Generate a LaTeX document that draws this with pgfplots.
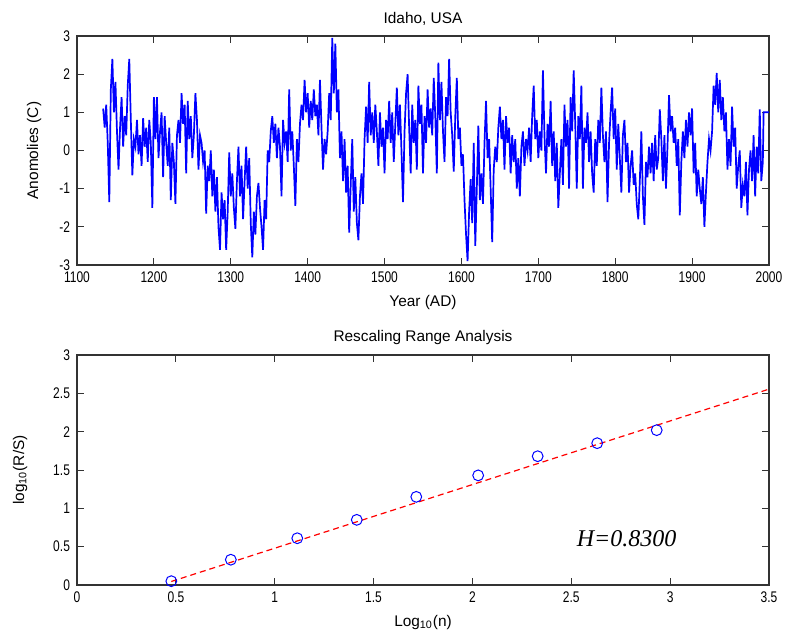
\documentclass[border=0pt]{standalone}
\usepackage{fontspec}
\setmainfont{Liberation Sans}
\newfontfamily\narrowfont{Liberation Sans}[FakeStretch=0.78]
\newfontfamily\hserif{Liberation Serif}
\usepackage{pgfplots}
\pgfplotsset{compat=1.18}

\pgfplotsset{
  matlab/.style={
    scale only axis,
    width=346pt,
    axis line style={black!80, line width=0.6pt},
    tick style={black!80, line width=0.5pt},
    major tick length=3.5pt,
    tick align=inside,
    font=\fontsize{7.7}{9}\selectfont,
    tick label style={font=\fontsize{7.7}{9}\selectfont\narrowfont},
    /pgf/number format/assume math mode=true,
    /pgf/number format/1000 sep={},
    title style={yshift=-4.5pt},
    xlabel style={yshift=0.5pt},
    clip=false,
  }
}

\begin{document}
\begin{tikzpicture}
% top: the temperature anomaly series
\begin{axis}[matlab,
    name=top,
    height=114.5pt,
    xmin=1100, xmax=2000,
    ymin=-3, ymax=3,
    xtick={1100,1200,...,2000},
    ytick={-3,-2,...,3},
    title={Idaho, USA},
    xlabel={Year (AD)},
    ylabel={Anomolies (C)},
    ylabel style={at={(axis description cs:-0.062,0.5)}, anchor=center},
]
\addplot[color={rgb,255:red,0;green,0;blue,255}, line width=0.85pt, mark=none] table {
1134 1.1
1136 0.6
1138 1.2
1140 0.2
1142 -1.35
1144 1.6
1146 2.4
1148 1.0
1150 1.8
1152 0.5
1154 -0.5
1156 0.6
1158 1.4
1160 0.1
1162 0.9
1164 0.4
1166 1.7
1168 2.4
1170 0.8
1172 -0.65
1174 0.3
1176 0.1
1178 0.8
1180 -0.1
1182 0.4
1184 -0.4
1186 0.85
1188 0.1
1190 0.6
1192 -0.3
1194 0.8
1196 0.2
1198 -1.5
1200 1.4
1202 0.3
1204 1.4
1206 -0.2
1208 0.5
1210 1.0
1212 -0.7
1214 0.9
1216 0.2
1218 -0.4
1220 0.6
1222 -1.3
1224 0.2
1226 -0.3
1228 -1.4
1230 0.4
1232 0.8
1234 0.2
1236 1.5
1238 0.7
1240 1.2
1242 -0.6
1244 1.3
1246 0.3
1248 0.9
1250 -0.2
1252 0.4
1254 1.5
1256 0.8
1258 -0.5
1260 0.4
1262 0.2
1264 -0.3
1266 0.0
1268 -1.65
1270 -0.4
1272 -0.8
1274 0.0
1276 -1.2
1278 -0.5
1280 -1.6
1282 -0.7
1284 -2.0
1286 -2.6
1288 -1.1
1290 -1.8
1292 -1.3
1294 -2.6
1296 -1.6
1298 -0.05
1300 -1.2
1302 -0.6
1304 -1.5
1306 -2.05
1308 -0.8
1310 0.1
1312 -1.2
1314 -0.4
1316 -1.8
1318 -0.8
1320 0.1
1322 -1.0
1324 -0.2
1326 -1.9
1328 -2.8
1330 -1.6
1332 -2.2
1334 -1.2
1336 -0.85
1338 -1.5
1340 -2.0
1342 -2.6
1344 -1.3
1346 -1.8
1348 0.0
1350 -0.3
1352 0.5
1354 0.9
1356 0.2
1358 0.7
1360 -0.2
1362 0.6
1364 0.1
1366 -1.2
1368 0.8
1370 0.2
1372 0.5
1374 -0.3
1376 1.6
1378 0.0
1380 0.5
1382 -0.4
1384 -1.45
1386 0.3
1388 -0.3
1390 0.7
1392 1.2
1394 0.8
1396 1.85
1398 1.0
1400 1.5
1402 0.6
1404 1.3
1406 0.8
1408 1.6
1410 0.9
1412 1.2
1414 0.4
1416 1.85
1418 0.6
1420 -0.5
1422 0.3
1424 -0.1
1426 0.5
1428 1.5
1430 0.8
1432 2.95
1434 1.5
1436 2.8
1438 1.0
1440 1.6
1442 -0.2
1444 0.5
1446 -0.8
1448 0.3
1450 -1.1
1452 -0.4
1454 -2.15
1456 -0.9
1458 0.3
1460 -1.6
1462 -0.7
1464 -1.9
1466 -2.35
1468 -1.2
1470 -0.6
1472 -1.4
1474 0.3
1476 1.15
1478 0.2
1480 1.8
1482 0.4
1484 1.0
1486 0.2
1488 1.2
1490 0.5
1492 -0.4
1494 1.0
1496 0.1
1498 0.6
1500 -0.6
1502 0.8
1504 0.3
1506 1.3
1508 0.2
1510 1.0
1512 -0.3
1514 0.7
1516 1.65
1518 0.4
1520 1.2
1522 0.0
1524 -1.35
1526 0.5
1528 1.5
1530 2.0
1532 0.6
1534 -0.6
1536 1.2
1538 0.2
1540 0.8
1542 -0.5
1544 1.7
1546 0.7
1548 1.2
1550 -0.6
1552 0.9
1554 0.2
1556 1.6
1558 0.6
1560 1.1
1562 0.4
1564 1.9
1566 0.9
1568 -0.6
1570 2.3
1572 0.8
1574 1.8
1576 0.5
1578 -0.3
1580 1.4
1582 0.9
1584 2.4
1586 1.0
1588 0.4
1590 -0.55
1592 0.9
1594 1.9
1596 0.3
1598 0.6
1600 -0.4
1602 -0.1
1604 -1.3
1606 -2.2
1608 -2.9
1610 -1.6
1612 -0.75
1614 -1.9
1616 0.2
1618 -2.5
1620 -1.0
1622 0.65
1624 -1.3
1626 -0.6
1628 -1.4
1630 0.2
1632 1.3
1634 -0.2
1636 0.3
1638 -1.0
1640 -2.4
1642 -0.5
1644 0.1
1646 -0.3
1648 0.6
1650 1.15
1652 0.3
1654 0.8
1656 -0.5
1658 0.9
1660 0.2
1662 0.6
1664 -0.6
1666 0.4
1668 -0.3
1670 0.3
1672 -1.0
1674 -0.2
1676 -1.2
1678 0.1
1680 0.5
1682 -0.4
1684 0.3
1686 0.0
1688 0.6
1690 -0.3
1692 0.9
1694 1.7
1696 0.3
1698 0.8
1700 -0.2
1702 0.5
1704 0.0
1706 2.1
1708 0.4
1710 -0.6
1712 0.7
1714 0.1
1716 1.3
1718 -0.4
1720 0.5
1722 -0.8
1724 0.2
1726 -1.5
1728 -0.6
1730 0.3
1732 -0.9
1734 1.2
1736 0.1
1738 0.8
1740 -1.0
1742 1.4
1744 0.5
1746 2.1
1748 0.7
1750 -1.0
1752 0.9
1754 0.3
1756 1.7
1758 -1.0
1760 0.6
1762 0.2
1764 1.0
1766 -0.3
1768 0.5
1770 -0.6
1772 -1.1
1774 0.3
1776 -0.4
1778 0.8
1780 0.2
1782 1.65
1784 0.4
1786 -0.3
1788 0.5
1790 -1.35
1792 0.2
1794 1.0
1796 1.65
1798 0.3
1800 1.1
1802 -0.5
1804 0.7
1806 -0.2
1808 -1.1
1810 0.4
1812 0.8
1814 -0.3
1816 0.2
1818 -1.1
1820 -0.4
1822 0.0
1824 -0.9
1826 -0.6
1828 -1.4
1830 -1.8
1832 -0.8
1834 0.5
1836 -1.2
1838 -1.95
1840 -0.3
1842 -0.7
1844 0.1
1846 -0.6
1848 0.2
1850 -0.8
1852 0.4
1854 -0.5
1856 -0.2
1858 1.08
1860 0.3
1862 -0.8
1864 0.4
1866 -1.0
1868 0.1
1870 1.45
1872 0.5
1874 0.9
1876 0.2
1878 0.6
1880 -0.4
1882 0.3
1884 -1.7
1886 -0.3
1888 0.5
1890 -0.2
1892 0.8
1894 0.1
1896 1.0
1898 0.4
1900 1.1
1902 -0.6
1904 0.2
1906 -1.2
1908 -0.5
1910 -1.0
1912 -1.4
1914 -0.7
1916 -2.0
1918 -1.1
1920 -0.3
1922 0.3
1924 0.0
1926 0.5
1928 1.7
1930 1.2
1932 2.03
1934 1.0
1936 1.85
1938 0.8
1940 1.4
1942 0.5
1944 1.0
1946 -0.5
1948 0.3
1950 -0.4
1952 1.15
1954 0.1
1956 0.6
1958 -1.0
1960 -0.4
1962 0.0
1964 -1.5
1966 -0.9
1968 -1.2
1970 -0.3
1972 -1.7
1974 -0.5
1976 0.0
1978 -0.8
1980 0.4
1982 -1.2
1984 0.1
1986 -0.6
1988 1.08
1990 -0.8
1992 -0.3
1993 1.0
2000 1.0
};
\end{axis}

% bottom: rescaled range analysis
\begin{axis}[matlab,
    at={(0,-160pt)},
    height=115pt,
    xmin=0, xmax=3.5,
    ymin=0, ymax=3,
    xtick={0,0.5,...,3.5},
    ytick={0,0.5,...,3},
    title={Rescaling Range Analysis},
    xlabel={Log\textsubscript{10}(n)},
    ylabel={log\textsubscript{10}(R/S)},
    ylabel style={at={(axis description cs:-0.082,0.5)}, anchor=center},
]
\addplot[color={rgb,255:red,255;green,0;blue,0}, line width=0.6pt,
    dash pattern=on 3pt off 2pt, mark=none] coordinates {
    (0.477,0.046) (3.5,2.555)
};
\addplot[only marks, mark=o, mark size=2.7pt,
    mark options={color={rgb,255:red,0;green,0;blue,255}, line width=0.5pt}] coordinates {
    (0.477,0.05)
    (0.778,0.33)
    (1.114,0.61)
    (1.415,0.85)
    (1.716,1.15)
    (2.029,1.43)
    (2.330,1.68)
    (2.631,1.85)
    (2.932,2.02)
};
\node[font={\fontsize{12}{14}\selectfont\hserif\itshape}] at (axis cs:2.78,0.61) {H=0.8300};
\end{axis}

\pgfresetboundingbox
\path (-38.5pt,-184.5pt) rectangle (357pt,132.5pt);
\end{tikzpicture}
\end{document}
